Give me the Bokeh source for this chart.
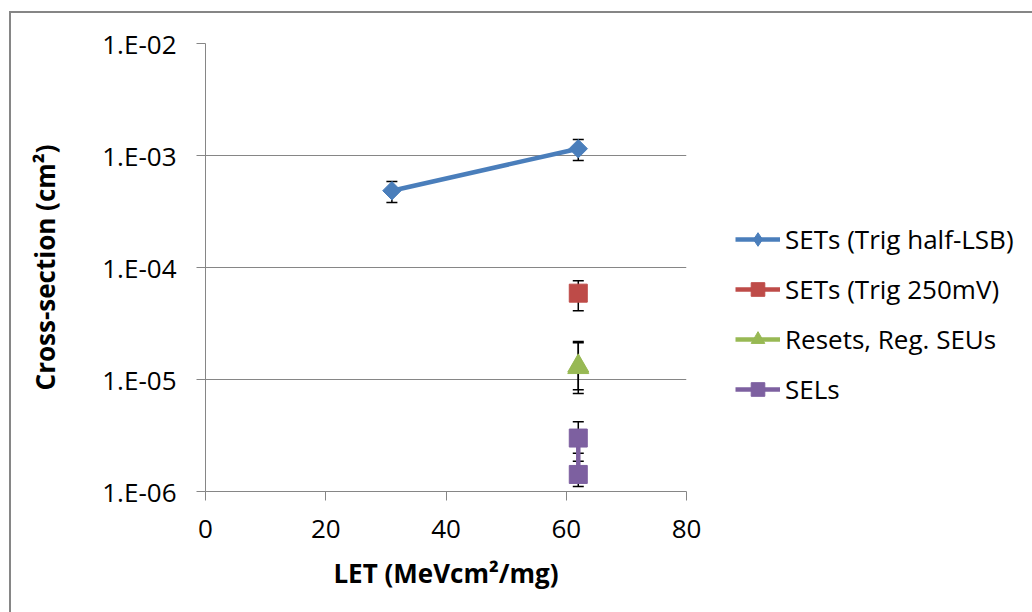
from bokeh.plotting import figure
from bokeh.layouts import row
from bokeh.models import (Range1d, FixedTicker, CustomJSTickFormatter, Whisker, TeeHead,
                          ColumnDataSource, Legend, LegendItem)
from bokeh.embed import file_html
from bokeh.resources import INLINE
import math

# ---- data ----
blue_let = [31, 62]
blue_xs = [4.85e-4, 1.15e-3]
blue_hi = [5.85e-4, 1.39e-3]
blue_lo = [3.8e-4, 9.0e-4]

red_let = [62]
red_xs = [5.9e-5]
red_hi = [7.6e-5]
red_lo = [4.1e-5]

green_let = [62, 62]
green_xs = [1.32e-5, 1.28e-5]
green_hi = [2.18e-5, 2.13e-5]
green_lo = [8.1e-6, 7.5e-6]

purple_let = [62, 62]
purple_xs = [3.0e-6, 1.42e-6]
purple_hi = [4.2e-6, 1.86e-6]
purple_lo = [2.2e-6, 1.11e-6]

labels = ["SETs (Trig half-LSB)", "SETs (Trig 250mV)", "Resets, Reg. SEUs", "SELs"]
x_ticks = [0, 20, 40, 60, 80]
y_ticks = [1e-6, 1e-5, 1e-4, 1e-3, 1e-2]

BLUE = "#4A7EBB"
RED = "#BE4B48"
GREEN = "#98B954"
PURPLE = "#7D60A0"
GRAY = "#868686"
FONT = "Open Sans"

# layout: container offset (9,11) with 2px border -> content starts at (11,13)
p = figure(width=715, height=599, output_backend="svg", toolbar_location=None,
           y_axis_type="log", x_range=Range1d(0, 80), y_range=Range1d(1e-6, 1e-2),
           min_border_left=194, min_border_right=40, min_border_top=30, min_border_bottom=121)
p.outline_line_color = None
p.background_fill_color = "white"
p.border_fill_color = "white"

# axes
p.xaxis.ticker = FixedTicker(ticks=x_ticks, minor_ticks=[])
p.yaxis.ticker = FixedTicker(ticks=y_ticks, minor_ticks=[])
p.yaxis.formatter = CustomJSTickFormatter(code="""
const e = Math.round(Math.log10(tick));
return '1.E-' + String(-e).padStart(2, '0');
""")
for ax in (p.xaxis, p.yaxis):
    ax.axis_line_color = GRAY
    ax.axis_line_width = 1
    ax.major_tick_line_color = GRAY
    ax.major_tick_out = 9
    ax.major_tick_in = 0
    ax.minor_tick_line_color = None
    ax.major_label_text_font = FONT
    ax.major_label_text_font_size = "26px"
    ax.major_label_text_color = "black"
    ax.axis_label_text_font = FONT
    ax.axis_label_text_font_size = "26px"
    ax.axis_label_text_font_style = "bold"
    ax.axis_label_text_color = "black"
p.xaxis.axis_label = "LET (MeVcm\u00b2/mg)"
p.yaxis.axis_label = "Cross-section (cm\u00b2)"
p.xaxis.major_label_standoff = 19
p.yaxis.major_label_standoff = 20
p.xaxis.axis_label_standoff = 14
p.yaxis.axis_label_standoff = 36

p.xgrid.grid_line_color = None
p.ygrid.grid_line_color = GRAY
p.ygrid.grid_line_width = 1

def whisk(xs, hi, lo):
    src = ColumnDataSource(dict(x=xs, hi=hi, lo=lo))
    w = Whisker(base="x", upper="hi", lower="lo", source=src, dimension="height",
                line_color="black", line_width=1.5,
                upper_head=TeeHead(size=11, line_color="black", line_width=1.5),
                lower_head=TeeHead(size=11, line_color="black", line_width=1.5))
    p.add_layout(w)

# blue
whisk(blue_let, blue_hi, blue_lo)
p.line(blue_let, blue_xs, line_color=BLUE, line_width=4.5)
p.scatter(blue_let, blue_xs, marker="square", size=13, angle=math.pi / 4,
          fill_color=BLUE, line_color=BLUE)
# red
whisk(red_let, red_hi, red_lo)
p.scatter(red_let, red_xs, marker="square", size=18, fill_color=RED, line_color=RED)
# green
whisk(green_let, green_hi, green_lo)
p.scatter(green_let, green_xs, marker="triangle", size=21, fill_color=GREEN, line_color=GREEN)
# purple
whisk(purple_let, purple_hi, purple_lo)
p.line(purple_let, purple_xs, line_color=PURPLE, line_width=4.5)
p.scatter(purple_let, purple_xs, marker="square", size=18, fill_color=PURPLE, line_color=PURPLE)

# ---- legend panel (its own figure; series drawn out of its view, only the legend shows) ----
q = figure(width=306, height=599, output_backend="svg", toolbar_location=None,
           x_range=Range1d(0, 1), y_range=Range1d(0, 1),
           x_axis_location=None, y_axis_location=None,
           min_border_left=0, min_border_right=0, min_border_top=0, min_border_bottom=0)
q.outline_line_color = None
q.grid.visible = False
q.background_fill_color = "white"
q.border_fill_color = "white"

series = [
    (blue_let, blue_xs, BLUE, "diamond"),
    (red_let, red_xs, RED, "square"),
    (green_let, green_xs, GREEN, "triangle"),
    (purple_let, purple_xs, PURPLE, "square"),
]
items = []
for lab, (xs, ys, col, mk) in zip(labels, series):
    lr = q.line(xs, ys, line_color=col, line_width=4.5)
    mr = q.scatter(xs, ys, marker=mk, fill_color=col, line_color=col)
    items.append(LegendItem(label=lab, renderers=[lr, mr]))

legend = Legend(items=items, location=(9, 84), orientation="vertical")
legend.border_line_alpha = 0
legend.background_fill_alpha = 0
legend.padding = 0
legend.margin = 0
legend.glyph_width = 45
legend.glyph_height = 34
legend.label_height = 34
legend.label_standoff = 5
legend.spacing = 14
legend.label_text_font = FONT
legend.label_text_font_size = "26px"
legend.label_text_color = "black"
q.add_layout(legend, "center")

layout = row(p, q, spacing=0)
layout.styles = {"margin-left": "9px", "margin-top": "11px",
                 "border-left": "2px solid #868686", "border-top": "2px solid #868686"}

open("out.html", "w").write(file_html(layout, INLINE))
